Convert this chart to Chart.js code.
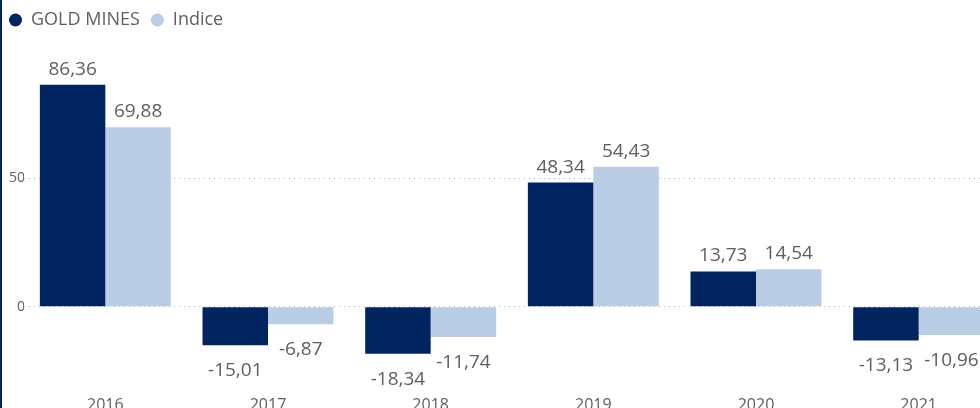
<!DOCTYPE html>
<html>
<head>
<meta charset="utf-8">
<script src="https://cdn.jsdelivr.net/npm/chart.js@4.4.1/dist/chart.umd.min.js"></script>
<style>
    html, body { margin: 0; padding: 0; background: #fff; overflow: hidden; }
    body { width: 980px; height: 408px; position: relative; }
    .borda { position: absolute; left: 0; top: 0; width: 2px; height: 408px; background: #002460; z-index: 2; }
    .caixa { position: absolute; left: -2px; top: 0; }
</style>
</head>
<body>
<div class="borda"></div>
<div class="caixa"><canvas id="graficoBarras" width="1002" height="410"></canvas></div>

<script>
const anos = ['2016', '2017', '2018', '2019', '2020', '2021'];
const goldMines = [86.36, -15.01, -18.34, 48.34, 13.73, -13.13];
const indice = [69.88, -6.87, -11.74, 54.43, 14.54, -10.96];
const ticksY = [0, 50];
const yMin = -29.3;
const yMax = 104.2;

const corTexto = '#605E5C';
const fonte = '"Open Sans", "Noto Sans", sans-serif';

// rótulos de valor em cima / embaixo das barras
const rotulos = {
    id: 'rotulos',
    afterDatasetsDraw(chart) {
        const ctx = chart.ctx;
        ctx.save();
        ctx.font = '19px ' + fonte;
        ctx.fillStyle = corTexto;
        ctx.textAlign = 'center';
        ctx.textBaseline = 'alphabetic';
        chart.data.datasets.forEach((ds, i) => {
            chart.getDatasetMeta(i).data.forEach((barra, j) => {
                const v = ds.data[j];
                const y = v >= 0 ? barra.y - 10 : barra.y + 31;
                ctx.fillText(v.toFixed(2).replace('.', ','), barra.x, y);
            });
        });
        ctx.restore();
    }
};

const ctx = document.getElementById('graficoBarras').getContext('2d');
const grafico = new Chart(ctx, {
    type: 'bar',
    data: {
        labels: anos,
        datasets: [{
            label: 'GOLD MINES',
            data: goldMines,
            backgroundColor: '#002460',
            borderWidth: 0
        }, {
            label: 'Indice',
            data: indice,
            backgroundColor: '#B9CDE5',
            borderWidth: 0
        }]
    },
    options: {
        responsive: false,
        animation: false,
        categoryPercentage: 0.805,
        barPercentage: 1,
        layout: { padding: 0 },
        plugins: {
            tooltip: { enabled: false },
            legend: {
                position: 'top',
                align: 'start',
                labels: {
                    usePointStyle: true,
                    pointStyle: 'circle',
                    pointStyleWidth: 13,
                    boxHeight: 9.2,
                    padding: 11,
                    color: corTexto,
                    font: { family: fonte, size: 18 }
                }
            }
        },
        scales: {
            x: {
                grid: { display: false, drawTicks: false },
                border: { display: false },
                ticks: {
                    color: corTexto,
                    padding: 14,
                    font: { family: fonte, size: 16 }
                },
                afterFit(scale) { scale.height = 28; }
            },
            y: {
                min: yMin,
                max: yMax,
                afterBuildTicks(scale) {
                    scale.ticks = ticksY.map(v => ({ value: v }));
                },
                afterFit(scale) { scale.width = 26; },
                grid: { color: '#B4B4B4', lineWidth: 1, drawTicks: false },
                border: { display: false, dash: [1, 4] },
                ticks: {
                    color: corTexto,
                    padding: -1,
                    font: { family: fonte, size: 14 }
                }
            }
        }
    },
    plugins: [rotulos]
});
</script>
</body>
</html>
